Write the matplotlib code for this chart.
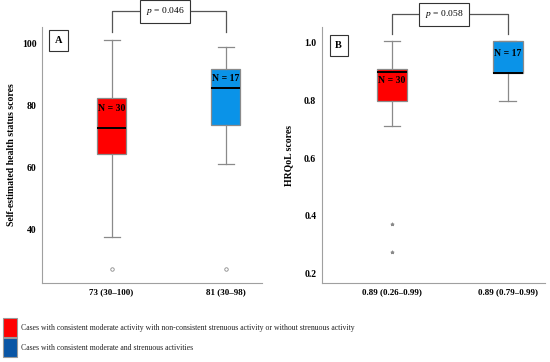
import matplotlib
matplotlib.use("Agg")
import matplotlib.pyplot as plt
from matplotlib.patches import Rectangle

plt.rcParams['font.family'] = ['Liberation Serif', 'DejaVu Serif']
plt.rcParams['mathtext.fontset'] = 'custom'
plt.rcParams['mathtext.it'] = 'Liberation Serif:italic'
plt.rcParams['mathtext.rm'] = 'Liberation Serif'

# ---- data ----
groups = ["Moderate only", "Moderate + strenuous"]
colors_box = ["#FF0000", "#0A93E8"]
legend_colors = ["#FF0000", "#0A56A5"]
legend_labels = [
    "Cases with consistent moderate activity with non-consistent strenuous activity or without strenuous activity",
    "Cases with consistent moderate and strenuous activities",
]

# Panel A: self-estimated health status
a_q1 = [64.3, 73.6]
a_med = [72.7, 85.4]
a_q3 = [82.3, 91.8]
a_lo = [37.4, 61.1]
a_hi = [100.9, 98.9]
a_fliers = [[27.1], [27.1]]
a_ticklabels = ["73 (30\u2013100)", "81 (30\u201398)"]
a_n = ["N = 30", "N = 17"]
a_n_y = [79.0, 88.7]
a_yticks = [40, 60, 80, 100]
a_ylim = (22.6, 105.2)
a_p = "0.046"

# Panel B: HRQoL
b_q1 = [0.800, 0.897]
b_med = [0.900, 0.897]
b_q3 = [0.911, 1.008]
b_lo = [0.711, 0.799]
b_hi = [1.008, 1.008]
b_fliers = [[0.371, 0.273], []]
b_ticklabels = ["0.89 (0.26\u20130.99)", "0.89 (0.79\u20130.99)"]
b_n = ["N = 30", "N = 17"]
b_n_y = [0.868, 0.962]
b_yticks = [0.2, 0.4, 0.6, 0.8, 1.0]
b_ylim = (0.166, 1.055)
b_p = "0.058"

positions = [1, 2]

fig = plt.figure(figsize=(5.5, 3.62), dpi=100)
grey = "#8a8a8a"


def panel(rect, q1, med, q3, lo, hi, fliers, ticklabels, nlab, ny, yticks, ylim,
          ytickfmt, ylabel, letter, letter_xy, pval, flier_marker, flier_fill,
          bracket, labelpad):
    ax = fig.add_axes(rect)
    stats = []
    for i in range(len(q1)):
        stats.append(dict(med=med[i], q1=q1[i], q3=q3[i], whislo=lo[i],
                          whishi=hi[i], fliers=fliers[i]))
    bp = ax.bxp(stats, positions=positions, widths=0.26, patch_artist=True,
                showfliers=True,
                boxprops=dict(edgecolor=grey, linewidth=0.9),
                whiskerprops=dict(color=grey, linewidth=0.9),
                capprops=dict(color=grey, linewidth=0.9),
                medianprops=dict(color="black", linewidth=1.4),
                flierprops=dict(marker=flier_marker, markersize=2.5,
                                markeredgecolor=grey, markerfacecolor=flier_fill,
                                markeredgewidth=0.6, linestyle="none"),
                capwidths=0.14)
    for patch, c in zip(bp["boxes"], colors_box):
        patch.set_facecolor(c)
    ax.set_xlim(0.39, 2.32)
    ax.set_ylim(*ylim)
    ax.set_yticks(yticks)
    ax.set_yticklabels([ytickfmt(v) for v in yticks], fontsize=7, fontweight="bold")
    ax.set_xticks(positions)
    ax.set_xticklabels(ticklabels, fontsize=6.5, fontweight="bold")
    ax.tick_params(length=0, pad=4)
    for s in ["top", "right"]:
        ax.spines[s].set_visible(False)
    for s in ["left", "bottom"]:
        ax.spines[s].set_color("#a0a0a0")
        ax.spines[s].set_linewidth(0.8)
    ax.set_ylabel(ylabel, fontsize=7, fontweight="bold", labelpad=labelpad)
    for x, y, t in zip(positions, ny, nlab):
        ax.text(x, y, t, ha="center", va="center", fontsize=7, fontweight="bold")
    ax.text(letter_xy[0], letter_xy[1], letter, transform=ax.transAxes,
            ha="center", va="center", fontsize=7.5, fontweight="bold",
            bbox=dict(boxstyle="square,pad=0.55", facecolor="white",
                      edgecolor="#333333", linewidth=0.8))
    tr = ax.get_xaxis_transform()
    y0, y1, px = bracket
    ax.plot([positions[0], positions[0], positions[1], positions[1]],
            [y0, y1, y1, y0], color="#555555", linewidth=0.9,
            transform=tr, clip_on=False)
    ax.text(px, y1, r"$\mathit{p}$" + " = " + pval, transform=tr, ha="center",
            va="center", fontsize=6.8,
            bbox=dict(boxstyle="square,pad=0.6", facecolor="white",
                      edgecolor="#333333", linewidth=0.8))
    return ax


axA = panel([0.0764, 0.218, 0.40, 0.707], a_q1, a_med, a_q3, a_lo, a_hi, a_fliers,
            a_ticklabels, a_n, a_n_y, a_yticks, a_ylim, lambda v: f"{v:d}",
            "Self-estimated health status scores", "A", (0.077, 0.947),
            a_p, "o", "none", (0.98, 1.062, 1.47), 4)
axB = panel([0.585, 0.218, 0.405, 0.707], b_q1, b_med, b_q3, b_lo, b_hi, b_fliers,
            b_ticklabels, b_n, b_n_y, b_yticks, b_ylim, lambda v: f"{v:.1f}",
            "HRQoL scores", "B", (0.076, 0.928),
            b_p, "*", grey, (0.973, 1.05, 1.45), 8)

# legend
legend_y = [0.0953, 0.0387]
for c, lab, y in zip(legend_colors, legend_labels, legend_y):
    fig.patches.append(Rectangle((0.006, y - 0.026), 0.0255, 0.053,
                                 transform=fig.transFigure, facecolor=c,
                                 edgecolor="#9a9a9a", linewidth=0.8))
    fig.text(0.038, y, lab, fontsize=5.6, va="center", ha="left", color="#222222")

fig.savefig("out.png", dpi=100)
